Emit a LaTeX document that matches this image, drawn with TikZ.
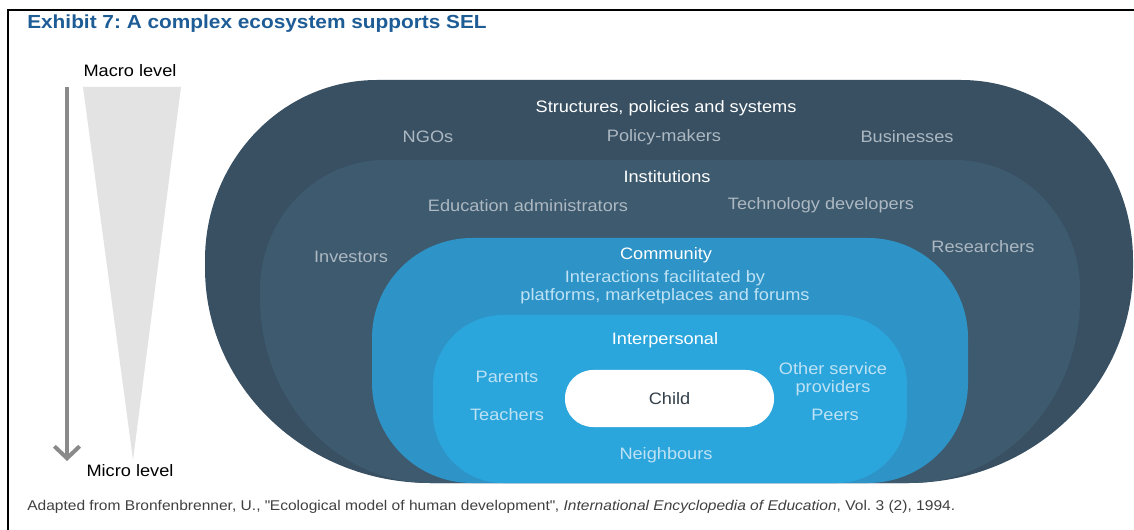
\documentclass[tikz,border=0pt]{standalone}
\usepackage{fontspec}
\setmainfont{Liberation Sans}[FakeStretch=1.1]
\usetikzlibrary{arrows.meta}
\frenchspacing
\definecolor{ecodark}{RGB}{56,80,98}
\definecolor{ecoslate}{RGB}{62,90,110}
\definecolor{ecomid}{RGB}{46,147,199}
\definecolor{ecolight}{RGB}{42,166,221}
\definecolor{exhibitblue}{RGB}{30,92,150}
\definecolor{itemgrey}{RGB}{172,184,194}
\definecolor{itemblue}{RGB}{190,226,244}
\definecolor{childtext}{RGB}{52,64,74}
\definecolor{levelgrey}{RGB}{138,138,138}
\definecolor{funnelgrey}{RGB}{227,227,227}
\definecolor{captiongrey}{RGB}{64,64,64}

\begin{document}
\begin{tikzpicture}[x=0.75pt,y=-0.75pt,>={Straight Barb[length=9pt,width=19pt]},
  every node/.style={inner sep=0pt,font=\fontsize{12.4}{13.5}\selectfont},
  head/.style={text=white},
  itemdark/.style={text=itemgrey},
  itemlight/.style={text=itemblue,align=center}]
  \useasboundingbox (0,0) rectangle (1134,530);
  \draw[line width=1.5pt] (8,530) -- (8,10) -- (1134,10);
  \node[anchor=west,text=exhibitblue,font=\bfseries\fontsize{14.2}{17}\selectfont] (title) at (27,24) {Exhibit 7: A complex ecosystem supports SEL};

  % macro to micro
  \fill[funnelgrey] (83,87) -- (181,87) -- (133,460) -- cycle;
  \coordinate (levtop) at (67,87);
  \coordinate (levbot) at (67,461);
  \draw[->,levelgrey,line width=3pt] (levtop) -- (levbot);
  \node (macro) at (130,71) {Macro level};
  \node (micro) at (130,471) {Micro level};

  % nested layers
  \fill[ecodark] (205,260) arc[start angle=180,end angle=270,x radius=172,y radius=180] -- (961,80)
    arc[start angle=270,end angle=360,x radius=172,y radius=180] -- (1133,268)
    arc[start angle=0,end angle=90,x radius=225,y radius=215] -- (430,483)
    arc[start angle=90,end angle=180,x radius=225,y radius=215] -- cycle;
  \fill[ecoslate] (260,290) arc[start angle=180,end angle=270,x radius=125,y radius=130] -- (955,160)
    arc[start angle=270,end angle=360,x radius=125,y radius=130] -- (1080,298)
    arc[start angle=0,end angle=90,x radius=170,y radius=185] -- (430,483)
    arc[start angle=90,end angle=180,x radius=170,y radius=185] -- cycle;
  \fill[ecomid] (372,338) arc[start angle=180,end angle=270,radius=100] -- (868,238)
    arc[start angle=270,end angle=360,radius=100] -- (968,383)
    arc[start angle=0,end angle=90,radius=100] -- (472,483)
    arc[start angle=90,end angle=180,radius=100] -- cycle;
  \fill[ecolight] (433,385) arc[start angle=180,end angle=270,radius=70] -- (837,315)
    arc[start angle=270,end angle=360,radius=70] -- (907,413)
    arc[start angle=0,end angle=90,radius=70] -- (503,483)
    arc[start angle=90,end angle=180,radius=70] -- cycle;

  \node[fill=white,rounded corners=21pt,minimum width=156.75pt,minimum height=42.75pt,text=childtext] (child) at (669.5,398.5) {Child};

  \node[head] (structures) at (666,108) {Structures, policies and systems};
  \node[itemdark] (ngos) at (428,137) {NGOs};
  \node[itemdark] (policy) at (664,137) {Policy-makers};
  \node[itemdark] (business) at (907,137) {Businesses};
  \node[head] (institutions) at (667,177) {Institutions};
  \node[itemdark] (eduadmin) at (528,206) {Education administrators};
  \node[itemdark] (techdev) at (821,205) {Technology developers};
  \node[itemdark] (investors) at (351,257) {Investors};
  \node[itemdark] (researchers) at (983,247) {Researchers};
  \node[head] (community) at (666,255) {Community};
  \node[itemlight] (platforms) at (665,287) {Interactions facilitated by\\platforms, marketplaces and forums};
  \node[head] (interpersonal) at (665,340) {Interpersonal};
  \node[itemlight] (parents) at (507,377) {Parents};
  \node[itemlight] (teachers) at (507,415) {Teachers};
  \node[itemlight] (neighbours) at (666,455) {Neighbours};
  \node[itemlight] (otherserv) at (833,379) {Other service\\providers};
  \node[itemlight] (peers) at (835,415) {Peers};

  \node[anchor=west,text=captiongrey,font=\fontsize{10.6}{12}\selectfont] (source) at (27,507) {Adapted from Bronfenbrenner, U., \textquotedbl Ecological model of human development\textquotedbl, \textit{International Encyclopedia of Education}, Vol. 3 (2), 1994.};
\end{tikzpicture}
\end{document}
